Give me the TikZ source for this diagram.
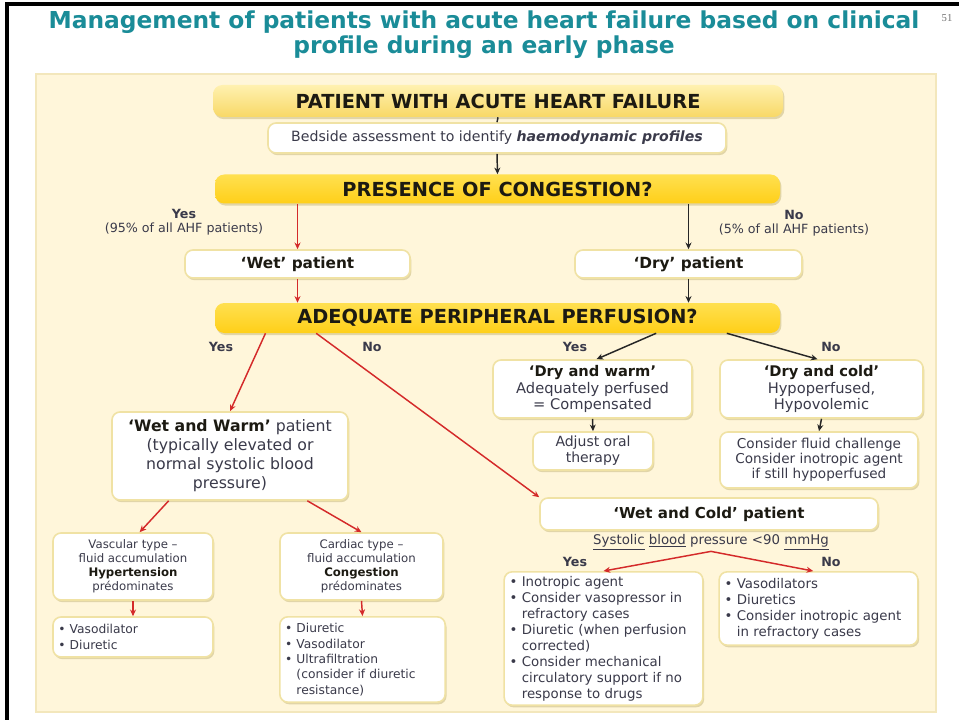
\documentclass[tikz,border=0pt]{standalone}
\usepackage{fontspec}
\setmainfont{DejaVu Sans}
\newfontfamily\serifnum{Liberation Serif}
\usetikzlibrary{arrows.meta,shadows}
\definecolor{teal1}{HTML}{1A8C98}
\definecolor{panel}{HTML}{FFF6DA}
\definecolor{panelborder}{HTML}{F3E7BC}
\definecolor{ybright}{HTML}{FFCF18}
\definecolor{ytop}{HTML}{FFE050}
\definecolor{ylighttop}{HTML}{FFF1B0}
\definecolor{ylightbot}{HTML}{F8D866}
\definecolor{bordercol}{HTML}{F0E2A4}
\definecolor{shadowcol}{HTML}{D8CB98}
\definecolor{redar}{HTML}{D42A2A}
\definecolor{txt}{HTML}{3A3A4A}
\definecolor{hd}{HTML}{1C1A12}
\newcommand\fsz[2]{\fontsize{#1}{#2}\selectfont}
\begin{document}
\begin{tikzpicture}[x=0.75pt,y=-0.75pt,
  sz/.style 2 args={minimum width=#1*0.75pt,minimum height=#2*0.75pt},
  shad/.style={drop shadow={shadow xshift=1pt,shadow yshift=-1.6pt,fill=shadowcol,opacity=0.75}},
  wbox/.style={shad,draw=bordercol,line width=1.2pt,fill=white,rounded corners=6pt,
    inner sep=2pt,align=center,text=txt,font=\fsz{10}{12}},
  lbox/.style={wbox,align=left,inner xsep=4pt},
  ybox/.style={shad,rounded corners=7pt,top color=ytop,bottom color=ybright,draw=none,
    font=\bfseries\fsz{14.5}{16},text=hd},
  ylbox/.style={shad,rounded corners=7pt,top color=ylighttop,bottom color=ylightbot,draw=none,
    font=\bfseries\fsz{14.5}{16},text=hd},
  hbox/.style={wbox,font=\bfseries\fsz{11.5}{13},text=hd},
  lbl/.style={font=\fsz{9.5}{10.5},text=txt,align=center,inner sep=1pt},
  ra/.style={draw=redar,line width=1.1pt,-{Stealth[length=5pt,width=4.5pt]}},
  ba/.style={draw=black!85,line width=1.1pt,-{Stealth[length=5pt,width=4.5pt]}},
  bl/.style={draw=black!85,line width=1.1pt}
]
\useasboundingbox (0,0) rectangle (959,720);
\fill[white] (0,0) rectangle (959,720);
\fill[black] (5,2) rectangle (959,6);
\fill[black] (5,2) rectangle (9,720);
\filldraw[fill=panel,draw=panelborder,line width=0.8pt] (36,74) rectangle (936,712);

% title
\node[font=\bfseries\fsz{17.5}{18.5},text=teal1,align=center] (title) at (484,34.5)
  {Management of patients with acute heart failure based on clinical\\profile during an early phase};
\node[font=\serifnum\fsz{8}{9},text=black!55] (pg) at (947,18) {51};

% top chain
\node[ylbox,sz={570}{32}] (pahf) at (498,101) {PATIENT WITH ACUTE HEART FAILURE};
\node[wbox,sz={458}{30},font=\fsz{10.6}{12}] (bed) at (497,138) {Bedside assessment to identify \textbf{\textit{haemodynamic profiles}}};
\node[ybox,sz={565}{29}] (cong) at (497.5,189) {PRESENCE OF CONGESTION?};
\node[hbox,sz={225}{28}] (wet) at (297.5,264) {‘Wet’ patient};
\node[hbox,sz={227}{28}] (dry) at (688.5,264) {‘Dry’ patient};
\node[ybox,sz={565}{30}] (adeq) at (497.5,318) {ADEQUATE PERIPHERAL PERFUSION?};

\node[lbl] (yes1) at (184,222) {\textbf{Yes}\\(95\% of all AHF patients)};
\node[lbl] (no1) at (794,223) {\textbf{No}\\(5\% of all AHF patients)};
\node[lbl] (yes2) at (221,347) {\textbf{Yes}};
\node[lbl] (no2) at (372,347) {\textbf{No}};
\node[lbl] (yes3) at (575,347) {\textbf{Yes}};
\node[lbl] (no3) at (831,347) {\textbf{No}};

% dry branch
\node[wbox,sz={199}{58},font=\fsz{11}{12.5}] (dw) at (592.5,389)
  {\textbf{\color{hd}‘Dry and warm’}\\Adequately perfused\\= Compensated};
\node[wbox,sz={203}{58},font=\fsz{11}{12.5}] (dc) at (821.5,389)
  {\textbf{\color{hd}‘Dry and cold’}\\Hypoperfused,\\Hypovolemic};
\node[wbox,sz={120}{38},font=\fsz{10.5}{12}] (adj) at (593,451) {Adjust oral\\therapy};
\node[wbox,sz={198}{56},font=\fsz{10.2}{11.4}] (fluid) at (819,460)
  {Consider fluid challenge\\Consider inotropic agent\\if still hypoperfused};

% wet and warm
\node[wbox,sz={236}{88},font=\fsz{11.8}{14.2}] (ww) at (230,456)
  {\textbf{\color{hd}‘Wet and Warm’} patient\\(typically elevated or\\normal systolic blood\\pressure)};
\node[wbox,sz={160}{67},font=\fsz{8.8}{10.6}] (vasc) at (133,566.5)
  {Vascular type –\\fluid accumulation\\\textbf{\color{hd}Hypertension}\\prédominates};
\node[wbox,sz={163}{67},font=\fsz{8.8}{10.6}] (card) at (361.5,566.5)
  {Cardiac type –\\fluid accumulation\\\textbf{\color{hd}Congestion}\\prédominates};
\node[lbox,text width=112pt,minimum height=30pt,font=\fsz{9.2}{12}] (vd) at (133,637)
  {• Vasodilator\\• Diuretic};
\node[lbox,text width=116pt,minimum height=64pt,font=\fsz{9.2}{11.5}] (diu) at (362.5,659.5)
  {• Diuretic\\• Vasodilator\\• Ultrafiltration\\\phantom{• }(consider if diuretic\\\phantom{• }resistance)};

% wet and cold
\node[hbox,sz={338}{32},font=\bfseries\fsz{11.3}{13}] (wc) at (709,514) {‘Wet and Cold’ patient};
\node[font=\fsz{10}{11},text=txt,inner sep=1pt] (sbp) at (711,542)
  {\underline{Systolic}\ \underline{blood} pressure <90 \underline{mmHg}};
\node[lbl] (yes4) at (575,562) {\textbf{Yes}};
\node[lbl] (no4) at (831,562) {\textbf{No}};
\node[lbox,text width=141pt,minimum height=100pt,font=\fsz{10}{12}] (yesb) at (603.5,638.5)
  {• Inotropic agent\\• Consider vasopressor in\\\phantom{• }refractory cases\\• Diuretic (when perfusion\\\phantom{• }corrected)\\• Consider mechanical\\\phantom{• }circulatory support if no\\\phantom{• }response to drugs};
\node[lbox,text width=141pt,minimum height=55pt,font=\fsz{10}{12}] (nob) at (818.5,608.5)
  {• Vasodilators\\• Diuretics\\• Consider inotropic agent\\\phantom{• }in refractory cases};

% connectors
\draw[bl] (pahf.south) -- (bed.north);
\draw[ba] (bed.south) -- (cong.north);
\draw[ra] (wet.north |- cong.south) -- (wet.north);
\draw[ba] (dry.north |- cong.south) -- (dry.north);
\draw[ra] (wet.south) -- (wet.south |- adeq.north);
\draw[ba] (dry.south) -- (dry.south |- adeq.north);
\draw[ra] ([xshift=-174pt]adeq.south) -- (ww.north);
\draw[ra] ([xshift=-136pt]adeq.south) -- (wc.north west);
\draw[ba] ([xshift=119pt]adeq.south) -- ([xshift=3pt]dw.north);
\draw[ba] ([xshift=172pt]adeq.south) -- ([xshift=-3pt]dc.north);
\draw[ba] (dw.south) -- (adj.north);
\draw[ba] (dc.south) -- (fluid.north);
\draw[ra] ([xshift=-46pt]ww.south) -- ([xshift=5pt]vasc.north);
\draw[ra] ([xshift=58pt]ww.south) -- (card.north);
\draw[ra] (vasc.south) -- (vd.north);
\draw[ra] (card.south) -- (diu.north);
\draw[ra] (sbp.south) -- (yesb.north);
\draw[ra] (sbp.south) -- ([xshift=-4pt]nob.north);
\end{tikzpicture}
\end{document}
